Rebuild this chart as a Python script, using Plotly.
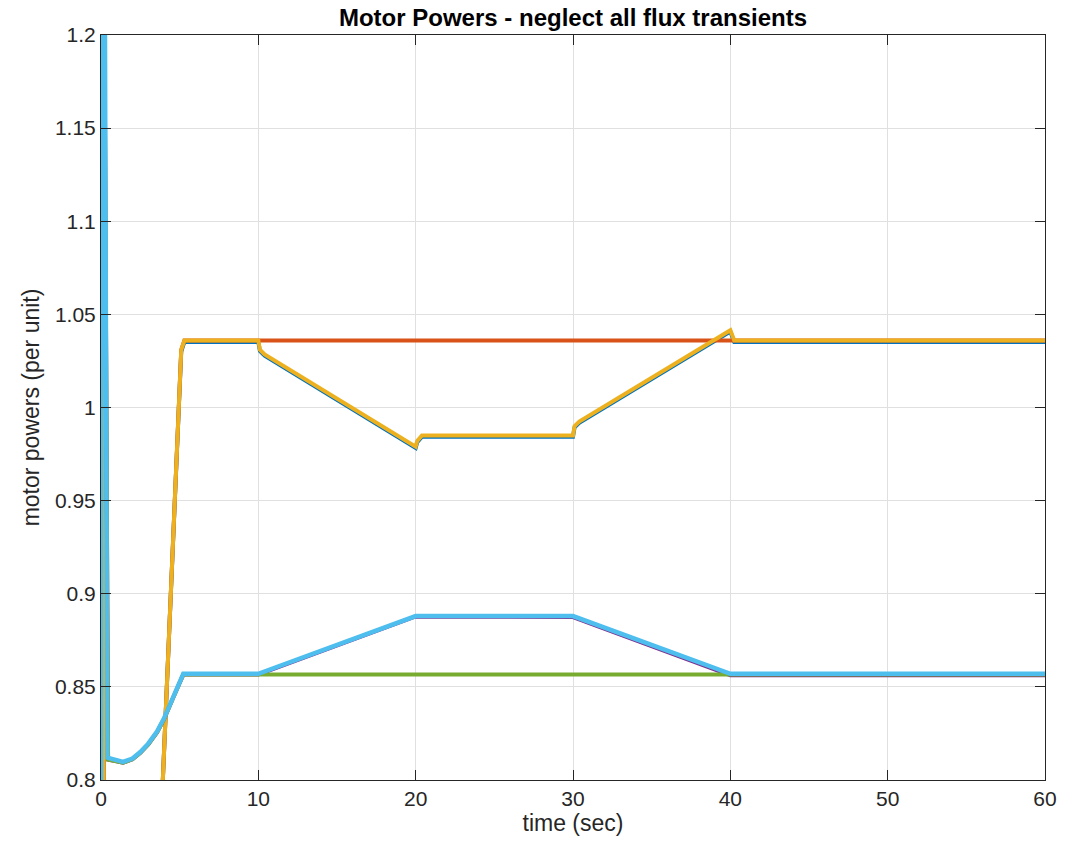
import plotly.graph_objects as go

# ---- data ----
t_a = [0, 0.35, 3.93, 5.1, 5.3, 10.0, 10.1, 10.4, 20.0, 20.1, 20.4, 30.0, 30.1, 30.4, 40.0, 40.25, 60]
p1 = [1.5, 0.05, 0.80, 1.030, 1.0352, 1.0352, 1.0303, 1.0278, 0.9783, 0.9813, 0.9843, 0.9843, 0.9893, 0.9918, 1.0408, 1.0352, 1.0352]
p3 = [1.5, 0.05, 0.80, 1.031, 1.036, 1.036, 1.031, 1.0285, 0.979, 0.982, 0.985, 0.985, 0.990, 0.9925, 1.0415, 1.036, 1.036]

t_r = [0, 0.35, 3.93, 5.1, 5.3, 60]
p2 = [1.5, 0.05, 0.80, 1.031, 1.036, 1.036]

t_b = [0, 0.1, 0.4, 1.4, 2.0, 2.5, 3.0, 3.56, 4.0, 4.6, 5.23, 10, 20, 30, 40, 60]
p6 = [0.80, 1.6, 0.812, 0.8097, 0.8115, 0.815, 0.8195, 0.826, 0.833, 0.8448, 0.857, 0.857, 0.888, 0.888, 0.857, 0.857]
t_p = [0, 0.45, 1.4, 2.0, 2.5, 3.0, 3.56, 4.0, 4.6, 5.23, 10, 20, 30, 40, 60]
p4 = [1.6, 0.811, 0.8093, 0.8111, 0.8146, 0.8191, 0.8256, 0.8326, 0.8444, 0.8566, 0.8566, 0.8878, 0.8875, 0.8563, 0.8563]
t_g = [0, 0.45, 1.4, 2.0, 2.5, 3.0, 3.56, 4.0, 4.6, 5.23, 60]
p5 = [1.6, 0.811, 0.8093, 0.8111, 0.8146, 0.8191, 0.8256, 0.8326, 0.8444, 0.8567, 0.8567]

x_ticks = [0, 10, 20, 30, 40, 50, 60]
y_ticks = [0.8, 0.85, 0.9, 0.95, 1.0, 1.05, 1.1, 1.15, 1.2]
y_labels = ["0.8", "0.85", "0.9", "0.95", "1", "1.05", "1.1", "1.15", "1.2"]

colors = ["#0072BD", "#D95319", "#EDB120", "#7E2F8E", "#77AC30", "#4DBEEE"]
series = [(t_a, p1), (t_r, p2), (t_a, p3), (t_p, p4), (t_g, p5), (t_b, p6)]
widths = [4, 4, 4, 4, 4, 4.5]

FONT = "Liberation Sans, Arial, Helvetica, sans-serif"
fig = go.Figure()
for (tt, vv), c, w in zip(series, colors, widths):
    fig.add_trace(go.Scatter(x=tt, y=vv, mode="lines", line=dict(color=c, width=w),
                             showlegend=False, hoverinfo="skip"))

axis_common = dict(showline=True, linecolor="#262626", linewidth=1, mirror="ticks",
                   ticks="inside", ticklen=10, tickcolor="#262626", tickwidth=1,
                   showgrid=True, gridcolor="#e0e0e0", gridwidth=1, zeroline=False,
                   tickfont=dict(family=FONT, size=21, color="#262626"))

fig.update_layout(
    width=1076, height=843,
    margin=dict(l=93, r=39, t=27, b=71),
    plot_bgcolor="white", paper_bgcolor="white",
    title=dict(text="<b>Motor Powers - neglect all flux transients</b>", x=(93 + 944 / 2) / 1076, xanchor="center",
               y=1 - 1 / 843, yanchor="top",
               font=dict(family=FONT, size=24, color="black")),
    xaxis=dict(range=[0, 60], tickvals=x_ticks, ticktext=[str(v) for v in x_ticks],
               title=dict(text="time (sec)", font=dict(family=FONT, size=23, color="#262626"), standoff=2),
               **axis_common),
    yaxis=dict(range=[0.8, 1.2], tickvals=y_ticks, ticktext=y_labels,
               title=dict(text="motor powers (per unit)", font=dict(family=FONT, size=23, color="#262626"), standoff=8),
               **axis_common),
)
fig.write_html("out.html")
